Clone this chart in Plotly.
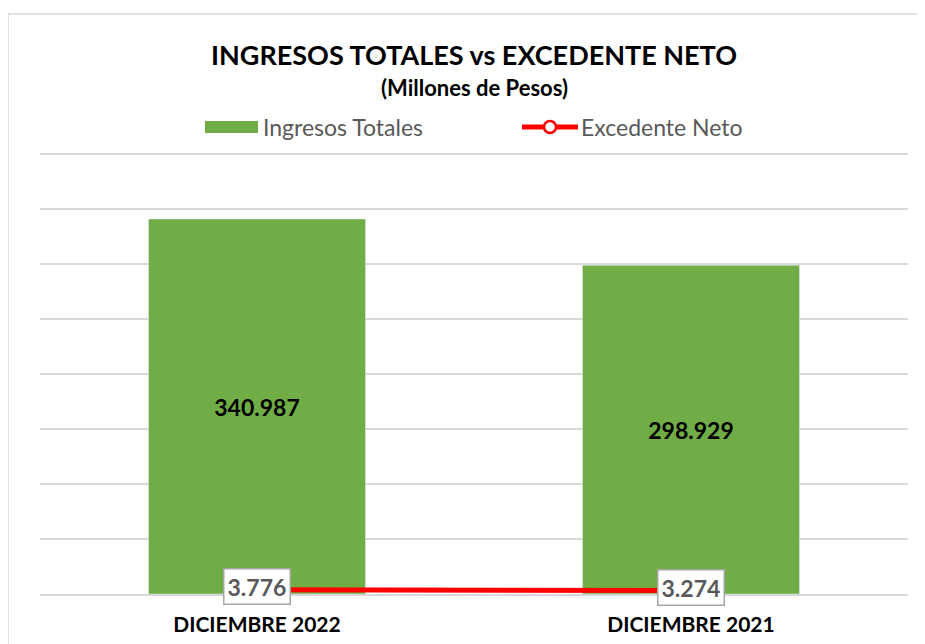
import plotly.graph_objects as go

categories = ["DICIEMBRE 2022", "DICIEMBRE 2021"]
ingresos_totales = [340987, 298929]
excedente_neto = [3776, 3274]
legend_labels = ["Ingresos Totales", "Excedente Neto"]

OFF = 8  # page body margin
W, H = 925 - OFF, 644 - OFF
L, R, T, B = 40 - OFF, 17, 153 - OFF, 50
pw, ph = W - L - R, H - T - B

def px_x(p):
    # p: page pixel -> paper fraction
    return (p - OFF - L) / pw

def px_y(p):
    return (H - B - (p - OFF)) / ph

GREEN = "#70AD47"
RED = "#FF0000"

fig = go.Figure()
fig.add_trace(go.Bar(
    x=categories, y=ingresos_totales, name=legend_labels[0],
    marker_color=GREEN,
    texttemplate="%{y:,.0f}", textposition="inside", insidetextanchor="middle",
    textfont=dict(family="Lato", size=23, color="#000000", weight="bold"),
    hoverinfo="skip", showlegend=False,
))
fig.add_trace(go.Scatter(
    x=categories, y=excedente_neto, name=legend_labels[1],
    mode="lines+markers",
    line=dict(color=RED, width=5),
    marker=dict(symbol="circle", size=10, color="white", line=dict(color=RED, width=2.5)),
    showlegend=False,
))

for c, v in zip(categories, excedente_neto):
    fig.add_annotation(
        x=c, y=v, xref="x", yref="y", text=f"{v:,}".replace(",", "."),
        showarrow=False, bgcolor="white", bordercolor="#A6A6A6", borderwidth=1.5,
        borderpad=3, yshift=3, xanchor="center", yanchor="middle",
        font=dict(family="Lato", size=23, color="#595959", weight="bold"),
    )

# Title and subtitle
fig.add_annotation(
    x=px_x(474), y=px_y(55), xref="paper", yref="paper",
    xanchor="center", yanchor="middle",
    text="INGRESOS TOTALES vs EXCEDENTE NETO", showarrow=False,
    font=dict(family="Lato", size=27, color="#000000", weight="bold"),
)
fig.add_annotation(
    x=px_x(474), y=px_y(87), xref="paper", yref="paper",
    xanchor="center", yanchor="middle",
    text="(Millones de Pesos)", showarrow=False,
    font=dict(family="Lato", size=22, color="#000000", weight="bold"),
)

# Manual legend
fig.add_shape(type="rect", xref="paper", yref="paper",
              x0=px_x(205), x1=px_x(258), y0=px_y(133), y1=px_y(121),
              line=dict(width=0), fillcolor=GREEN)
fig.add_annotation(x=px_x(261), y=px_y(127), xref="paper", yref="paper",
                   text=legend_labels[0], showarrow=False, xanchor="left", yanchor="middle",
                   font=dict(family="Lato", size=23, color="#595959"))
fig.add_shape(type="line", xref="paper", yref="paper",
              x0=px_x(522), x1=px_x(578), y0=px_y(127), y1=px_y(127),
              line=dict(color=RED, width=5))
fig.add_shape(type="circle", xref="paper", yref="paper",
              x0=px_x(544), x1=px_x(556), y0=px_y(133), y1=px_y(121),
              line=dict(color=RED, width=2.5), fillcolor="white")
fig.add_annotation(x=px_x(579), y=px_y(127), xref="paper", yref="paper",
                   text=legend_labels[1], showarrow=False, xanchor="left", yanchor="middle",
                   font=dict(family="Lato", size=23, color="#595959"))

# Chart border
fig.add_shape(type="rect", xref="paper", yref="paper",
              x0=px_x(8), x1=px_x(940), y0=px_y(660), y1=px_y(14),
              line=dict(color="#D9D9D9", width=1.5), fillcolor="rgba(0,0,0,0)", layer="below")

fig.update_layout(
    width=W, height=H,
    margin=dict(l=L, r=R, t=T, b=B, autoexpand=False),
    paper_bgcolor="white", plot_bgcolor="white",
    separators=",.",
    bargap=0.5,
    showlegend=False,
    xaxis=dict(
        showgrid=False, showline=True, linecolor="#D9D9D9", linewidth=1.5,
        tickfont=dict(family="Lato", size=21, color="#000000", weight="bold"),
        ticks="", ticklabelstandoff=11, fixedrange=True,
    ),
    yaxis=dict(
        range=[0, 401000], tick0=0, dtick=50000, showticklabels=False,
        showgrid=True, gridcolor="#D9D9D9", gridwidth=1.5, zeroline=False,
        fixedrange=True,
    ),
)

fig.write_html("out.html")
